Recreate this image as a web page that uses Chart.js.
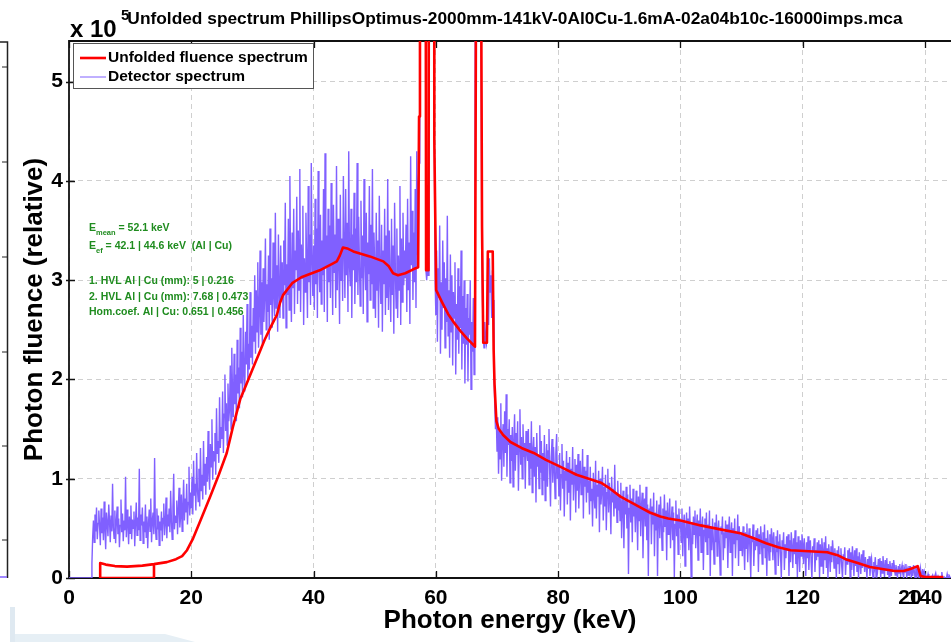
<!DOCTYPE html>
<html>
<head>
<meta charset="utf-8">
<script src="https://cdn.jsdelivr.net/npm/chart.js@4.4.0/dist/chart.umd.min.js"></script>
<style>
  html, body { margin: 0; padding: 0; background: #fff; overflow: hidden; }
  canvas { display: block; }
</style>
</head>
<body>
<canvas id="spectrum" width="951" height="642"></canvas>
<script>
// Detector channels: first channel energy and channel width (keV)
const DETECTOR_START_KEV = 0;
const DETECTOR_BIN_KEV = 0.125;

// Detector spectrum, photon fluence in units of 10^3, one value per channel
const detectorFluenceK = [
  0,0,0,0,0,0,0,0,0,0, 0,0,0,0,0,0,0,0,0,0, 0,0,0,0,0,0,0,0,0,0, 15,42,58,36,64,47,71,39,55,68,
  52,33,70,45,61,38,77,49,29,66, 55,42,74,58,36,63,47,95,51,40, 68,35,57,72,44,60,31,53,79,46, 65,37,58,48,102,41,69,54,34,62,
  45,73,39,59,50,67,32,56,76,43, 61,48,110,38,64,53,71,35,57,46, 74,41,62,30,55,69,47,80,36,58, 66,44,121,52,39,70,49,63,33,57,
  48,67,37,60,75,43,55,81,40,64, 52,70,46,88,58,39,72,105,49,63, 56,78,44,69,91,51,62,84,47,73, 99,58,80,66,95,54,76,112,63,86,
  70,102,64,118,83,95,68,126,90,77, 110,72,131,88,104,79,138,93,115,84, 122,97,148,106,89,135,112,160,99,128, 118,146,104,171,125,138,116,182,131,152,
  140,188,126,165,205,148,176,134,196,158, 170,214,150,232,182,162,226,175,205,158, 240,186,212,171,252,196,228,182,265,205, 188,248,215,276,198,236,210,288,222,254,
  215,272,238,305,226,290,248,318,232,266, 330,245,298,236,312,258,284,342,250,296, 268,325,240,352,275,302,252,338,286,264, 368,272,315,248,346,290,262,335,281,318,
  262,340,295,378,252,316,285,362,270,405, 305,258,348,292,372,266,330,310,384,276, 350,290,412,268,336,302,375,255,322,288, 368,312,262,395,298,346,275,418,320,284,
  335,270,382,296,352,262,410,318,288,366, 276,340,305,392,268,428,312,345,258,372, 298,355,282,398,326,265,376,308,346,272, 415,290,362,318,256,386,300,342,279,405,
  330,282,392,305,358,268,430,315,294,372, 262,346,310,388,276,352,298,418,285,364, 318,274,380,302,345,266,402,322,290,368, 258,338,306,395,280,356,296,412,272,348,
  312,262,368,290,340,252,385,305,276,356, 248,330,296,372,265,345,282,402,270,350, 300,258,362,285,335,246,378,310,272,352, 262,325,290,395,255,342,278,368,295,330,
  302,356,268,382,290,338,256,425,315,370, 280,348,298,392,272,430,326,395,418,900, 900,900,900,900,900,900,900,310,300,315, 305,900,900,900,900,900,900,900,440,300,
  265,330,238,312,282,355,226,298,250,340, 272,318,232,302,258,365,244,290,222,326, 248,305,214,288,262,318,205,276,240,312, 226,294,252,330,210,284,236,300,196,272,
  235,286,198,262,245,300,190,258,228,282, 205,268,900,900,900,900,900,900,900,900, 360,280,245,232,258,240,236,268,300,255, 322,288,305,262,310,280,210,175,150,165,
  128,162,105,148,120,176,98,140,155,112, 168,126,185,102,150,134,160,96,144,118, 152,92,138,165,108,146,124,158,88,132, 170,114,142,100,155,122,136,90,148,128,
  118,150,94,136,110,158,86,128,142,102, 132,76,146,112,124,90,154,106,138,84, 126,98,144,78,116,135,92,128,150,104, 72,122,140,96,132,110,80,126,145,100,
  112,82,126,68,104,135,90,118,62,108, 98,128,74,116,86,122,58,110,94,132, 78,106,120,66,114,88,125,70,102,118, 84,96,130,60,112,92,108,76,124,86,
  98,64,112,78,90,52,106,84,70,118, 60,94,82,108,46,100,74,88,112,58, 92,72,104,48,86,110,66,96,80,44, 102,76,90,62,114,70,84,56,98,68,
  82,58,96,40,74,88,30,78,64,92, 50,84,4,70,94,56,80,36,90,62, 76,46,88,68,28,82,58,94,42,72, 86,20,66,80,52,92,38,74,2,70,
  64,80,34,72,54,86,22,66,48,78, 2,60,74,40,82,56,28,70,46,84, 52,68,18,76,44,62,80,30,58,72, 38,66,1,54,78,42,64,24,70,50,
  58,36,70,22,54,64,12,48,66,40, 60,28,72,46,1,56,34,62,44,68, 30,52,64,18,58,42,70,26,50,62, 8,48,60,36,66,24,54,40,68,2,
  50,28,60,40,14,56,36,64,22,48, 58,32,3,52,44,62,18,46,30,58, 40,54,10,48,62,26,44,56,2,50, 34,60,20,46,38,64,12,52,28,42,
  44,22,52,34,8,46,30,55,16,40, 50,26,1,42,36,54,12,38,28,48, 32,50,6,44,24,52,38,14,46,30, 54,20,40,2,48,34,18,44,26,50,
  40,18,46,30,4,42,26,48,12,36, 44,22,0,38,30,46,8,34,20,42, 28,44,2,38,16,46,32,10,40,24, 48,14,36,1,42,28,6,38,22,44,
  34,14,40,24,2,36,20,42,8,30, 38,16,0,32,26,40,6,28,18,36, 22,38,1,34,12,40,28,4,36,18, 42,10,30,0,34,24,6,32,16,38,
  26,10,30,18,0,28,14,32,4,22, 30,12,0,24,18,31,3,20,14,28, 16,30,1,26,8,32,20,2,28,12, 30,6,22,0,26,16,4,24,10,28,
  18,6,21,12,0,19,9,22,2,15, 20,7,0,16,11,21,1,13,8,19, 10,20,0,17,5,22,12,1,18,8, 20,3,14,0,17,10,2,15,6,18,
  11,3,13,7,0,12,5,14,1,9, 13,4,0,10,6,14,0,8,3,12, 6,12,0,10,2,13,7,0,11,4, 12,1,8,0,10,5,0,9,2,6,
  0,2,0,0,4,0,0,1,0,0, 3,0,0,0,5,0,0,2,0,0, 0,0,6,0,0,1,0,0,0,4, 0,0,2,0,0,0,5,0,0,0
];

// Unfolded fluence spectrum: energy (keV) and fluence (x 10^5), traced in order
const unfoldedEnergy = [
  13.9,13.9,5.1,5.1,6,7.5,9.5,12,13.9,16,17.5,18.5,19.3,20.3,21.5,23.1,24.5,25.8,26.8,28,29,30,31,32,33,34,34.5,35,36.5,38,41,43.2,43.8,44.3,44.8,45.5,46.5,49.2,51.4,52.3,53,53.8,55,56.3,57.1,
  57.25,57.4,58.3,58.4,58.8,58.9,59.7,59.75,60.05,61,62,63,64,65,66.4,
  66.5,66.7,67.3,67.45,67.55,67.75,68.35,68.5,69.3,69.45,69.6,69.9,70.3,71,72.2,74,76,78,80.4,83,85,87,88.5,90.2,92,93.5,95,96.7,98,100,
  103.3,106.5,109.8,112,114,116,118,121,124,125.7,127,129,131,133,135,136.5,137.6,138.8,139.1,139.3,140,143
];
const unfoldedFluence = [
  0.14,0,0,0.15,0.135,0.12,0.115,0.125,0.14,0.16,0.19,0.22,0.28,0.40,0.58,0.82,1.04,1.26,1.52,1.80,1.95,2.10,2.25,2.40,2.53,2.65,2.77,2.85,2.97,3.03,3.10,3.17,3.19,3.25,3.33,3.32,3.29,3.24,3.19,3.14,3.07,3.05,3.07,3.11,3.13,
  4.65,9,9,3.10,3.10,9,9,4.40,2.90,2.78,2.66,2.57,2.49,2.42,2.33,
  4.44,9,9,5.25,3.54,2.37,2.37,3.29,3.29,2.30,1.95,1.58,1.50,1.44,1.37,1.31,1.26,1.19,1.12,1.04,1.00,0.96,0.90,0.82,0.76,0.71,0.66,0.62,0.60,0.58,
  0.53,0.49,0.45,0.40,0.35,0.31,0.28,0.27,0.26,0.23,0.19,0.15,0.11,0.09,0.07,0.07,0.09,0.12,0.06,0.02,0.01,0.01
];

// Axis ticks and labels
const energyTicks = [0, 20, 40, 60, 80, 100, 120, 140];
const fluenceTicks = [0, 1, 2, 3, 4, 5];
const ENERGY_MAX = 144.25;
const FLUENCE_MAX = 5.41;

const seriesLabels = ['Unfolded fluence spectrum', 'Detector spectrum'];
const seriesColors = ['#ff0000', 'rgb(128,96,255)'];

const chartTitle = 'Unfolded spectrum PhillipsOptimus-2000mm-141kV-0Al0Cu-1.6mA-02a04b10c-16000imps.mca';
const xTitle = 'Photon energy (keV)';
const yTitle = 'Photon fluence (relative)';

// Beam quality summary lines: [symbol, subscript, rest]
const summaryLines = [
  ['E', 'mean', ' = 52.1 keV'],
  ['E', 'ef', ' = 42.1 | 44.6 keV  (Al | Cu)'],
  null,
  ['1. HVL Al | Cu (mm): 5 | 0.216', '', ''],
  ['2. HVL Al | Cu (mm): 7.68 | 0.473', '', ''],
  ['Hom.coef. Al | Cu: 0.651 | 0.456', '', '']
];

const FONT = '"Liberation Sans", Arial, Helvetica, sans-serif';

// axis unit is 10^5, channel values are in 10^3
const detectorPoints = detectorFluenceK.map((v, i) => ({ x: DETECTOR_START_KEV + i * DETECTOR_BIN_KEV, y: v / 100 }));
const unfoldedPoints = unfoldedEnergy.map((e, i) => ({ x: e, y: unfoldedFluence[i] }));

// Box, inward tick marks and the neighbouring panel edge
const framePlugin = {
  id: 'frame',
  beforeDatasetsDraw(chart) {
    const { ctx, chartArea: a, scales: { x, y } } = chart;
    ctx.save();
    // neighbouring panel edge at the far left
    ctx.strokeStyle = '#222';
    ctx.lineWidth = 1.5;
    ctx.beginPath();
    ctx.moveTo(0, a.top + 1); ctx.lineTo(7.5, a.top + 1); ctx.lineTo(7.5, a.bottom);
    ctx.stroke();
    ctx.lineWidth = 1;
    ctx.beginPath();
    [67, 162, 257, 352, 446, 540].forEach(py => { ctx.moveTo(2, py); ctx.lineTo(7.5, py); });
    ctx.stroke();
    ctx.strokeStyle = seriesColors[1];
    ctx.lineWidth = 1.5;
    ctx.beginPath(); ctx.moveTo(0, a.bottom - 1); ctx.lineTo(7, a.bottom - 1); ctx.stroke();

    // light panel shape at the bottom left
    ctx.fillStyle = '#dfe9f1';
    ctx.fillRect(10, 607, 5, 35);
    ctx.fillStyle = '#e6eff5';
    ctx.beginPath();
    ctx.moveTo(15, 634); ctx.lineTo(165, 634); ctx.lineTo(195, 642); ctx.lineTo(15, 642); ctx.closePath();
    ctx.fill();

    // axes box
    ctx.strokeStyle = '#111';
    ctx.lineWidth = 1.8;
    ctx.beginPath();
    ctx.moveTo(a.right + 2, a.top); ctx.lineTo(a.left, a.top);
    ctx.lineTo(a.left, a.bottom); ctx.lineTo(a.right + 2, a.bottom);
    ctx.stroke();
    ctx.lineWidth = 1.3;
    ctx.beginPath();
    x.ticks.forEach(t => {
      const px = Math.round(x.getPixelForValue(t.value)) + 0.5;
      ctx.moveTo(px, a.bottom); ctx.lineTo(px, a.bottom - 7);
      ctx.moveTo(px, a.top); ctx.lineTo(px, a.top + 7);
    });
    y.ticks.forEach(t => {
      const py = Math.round(y.getPixelForValue(t.value)) + 0.5;
      ctx.moveTo(a.left - 3, py); ctx.lineTo(a.left + 6, py);
    });
    ctx.stroke();
    ctx.restore();
  }
};

// Title, exponent, legend and the beam quality summary
const textPlugin = {
  id: 'texts',
  afterDraw(chart) {
    const { ctx, chartArea: a } = chart;
    ctx.save();
    ctx.fillStyle = '#000';
    ctx.textBaseline = 'alphabetic';

    // title, fitted to its width
    let size = 18;
    ctx.font = `bold ${size}px ${FONT}`;
    const w = ctx.measureText(chartTitle).width;
    size = size * 776 / w;
    ctx.font = `bold ${size.toFixed(2)}px ${FONT}`;
    ctx.textAlign = 'center';
    ctx.fillText(chartTitle, 515, 24);

    // axis exponent
    ctx.textAlign = 'left';
    ctx.font = `bold 24px ${FONT}`;
    ctx.fillText('x 10', 70, 37);
    ctx.font = `bold 15px ${FONT}`;
    ctx.fillText('5', 121, 20);

    // duplicated tick label near the right end
    ctx.font = `bold 21px ${FONT}`;
    ctx.textAlign = 'center';
    ctx.textBaseline = 'top';
    ctx.fillText('20', 910, a.bottom + 10);

    // legend
    ctx.textBaseline = 'middle';
    ctx.textAlign = 'left';
    ctx.fillStyle = '#fff';
    ctx.fillRect(73.5, 43.5, 240, 45);
    ctx.strokeStyle = '#555';
    ctx.lineWidth = 1;
    ctx.strokeRect(73.5, 43.5, 240, 45);
    const ds = chart.data.datasets;
    const rows = [58, 77];
    ds.forEach((d, i) => {
      ctx.strokeStyle = d.borderColor;
      ctx.lineWidth = i === 0 ? d.borderWidth : 1;
      ctx.beginPath(); ctx.moveTo(80, rows[i]); ctx.lineTo(106, rows[i]); ctx.stroke();
      ctx.fillStyle = '#000';
      ctx.font = `bold 15.5px ${FONT}`;
      ctx.fillText(d.label, 108, rows[i]);
    });

    // beam quality summary
    ctx.textBaseline = 'alphabetic';
    ctx.fillStyle = '#1f8c1f';
    const baselines = [231, 249, 0, 284, 300, 315];
    summaryLines.forEach((line, i) => {
      if (!line) return;
      let x = 89;
      ctx.font = `bold 10.5px ${FONT}`;
      ctx.fillText(line[0], x, baselines[i]);
      x += ctx.measureText(line[0]).width;
      if (line[1]) {
        ctx.font = `bold 7.5px ${FONT}`;
        ctx.fillText(line[1], x, baselines[i] + 4);
        x += ctx.measureText(line[1]).width;
      }
      if (line[2]) {
        ctx.font = `bold 10.5px ${FONT}`;
        ctx.fillText(line[2], x, baselines[i]);
      }
    });
    ctx.restore();
  }
};

new Chart(document.getElementById('spectrum'), {
  type: 'scatter',
  data: {
    datasets: [
      {
        label: seriesLabels[0],
        data: unfoldedPoints,
        showLine: true,
        borderColor: seriesColors[0],
        borderWidth: 2.6,
        pointRadius: 0,
        tension: 0,
        borderJoinStyle: 'round'
      },
      {
        label: seriesLabels[1],
        data: detectorPoints,
        showLine: true,
        borderColor: seriesColors[1],
        borderWidth: 1.4,
        pointRadius: 0,
        tension: 0
      }
    ]
  },
  options: {
    responsive: false,
    animation: false,
    events: [],
    layout: { padding: { top: 41, left: 0, right: 0, bottom: 0 } },
    plugins: { legend: { display: false }, title: { display: false }, tooltip: { enabled: false } },
    scales: {
      x: {
        type: 'linear',
        min: 0,
        max: ENERGY_MAX,
        afterBuildTicks: s => { s.ticks = energyTicks.map(v => ({ value: v })); },
        afterFit: s => { s.height = 64; },
        ticks: { color: '#000', padding: 8, maxRotation: 0, autoSkip: false, font: { family: FONT, size: 21, weight: 'bold' } },
        grid: { color: '#cfcfcf', lineWidth: 1, drawTicks: false },
        border: { display: false, dash: [5, 4] },
        title: { display: true, text: xTitle, color: '#000', padding: { top: 0, bottom: 6 }, font: { family: FONT, size: 26, weight: 'bold' } }
      },
      y: {
        type: 'linear',
        min: 0,
        max: FLUENCE_MAX,
        afterBuildTicks: s => { s.ticks = fluenceTicks.map(v => ({ value: v })); },
        afterFit: s => { s.width = 69; },
        ticks: { color: '#000', padding: 6, autoSkip: false, font: { family: FONT, size: 21, weight: 'bold' } },
        grid: { color: '#cfcfcf', lineWidth: 1, drawTicks: false },
        border: { display: false, dash: [5, 4] },
        title: { display: true, text: yTitle, color: '#000', padding: { top: 19, bottom: 0 }, font: { family: FONT, size: 26, weight: 'bold' } }
      }
    }
  },
  plugins: [framePlugin, textPlugin]
});
</script>
</body>
</html>
